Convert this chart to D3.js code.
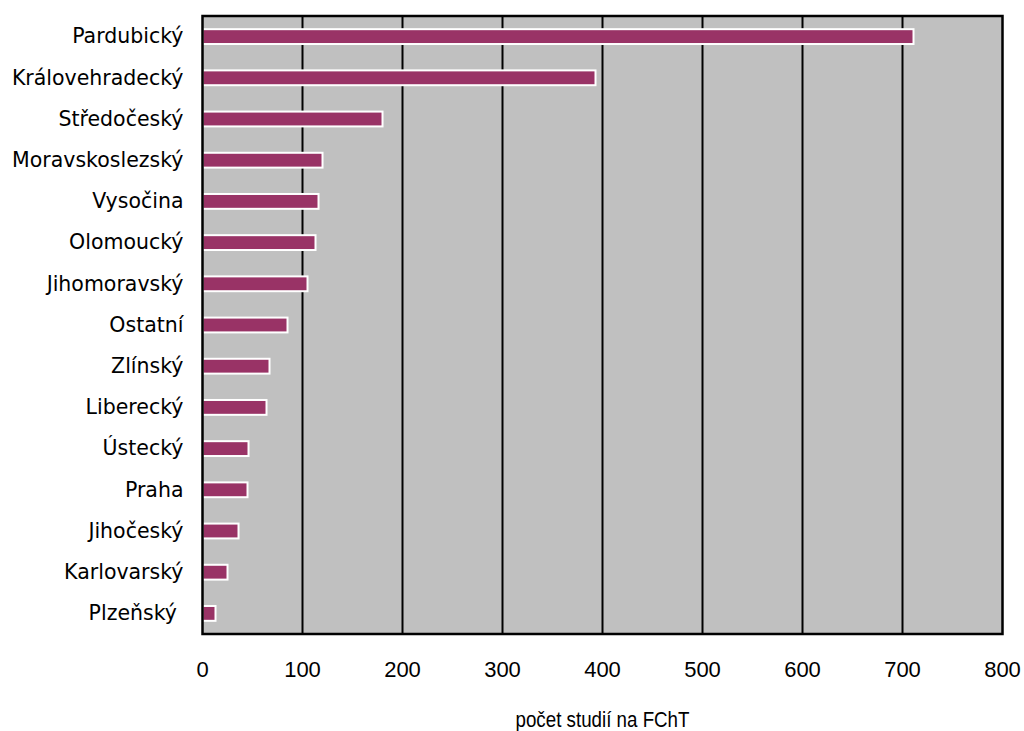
<!DOCTYPE html>
<html>
<head>
<meta charset="utf-8">
<script src="https://cdn.jsdelivr.net/npm/d3@7"></script>
<style>
  body { margin: 0; background: #fff; }
  svg { display: block; }
  .cat { font-family: "DejaVu Sans", Verdana, sans-serif; font-size: 20.5px; fill: #000; white-space: pre; }
  .tick-label { font-family: "Liberation Sans", Arial, sans-serif; font-size: 22px; fill: #000; }
  .axis-title { font-family: "Liberation Sans", Arial, sans-serif; font-size: 22px; fill: #000; }
</style>
</head>
<body>
<svg id="chart" width="1024" height="731"></svg>
<script>
// Regions (kraje) and number of studies at FChT
const regions = ["Pardubický", "Královehradecký", "Středočeský", "Moravskoslezský", "Vysočina",
  "Olomoucký", "Jihomoravský", "Ostatní", "Zlínský", "Liberecký", "Ústecký", "Praha",
  "Jihočeský", "Karlovarský", "Plzeňský "];
const studies = [711, 393, 180, 120, 116, 113, 105, 85, 67, 64, 46, 45, 36, 25, 13];
const xTicks = [0, 100, 200, 300, 400, 500, 600, 700, 800];
const xTitle = "počet studií na FChT";

const svg = d3.select("#chart");
const plot = { left: 202.5, right: 1002.5, top: 16, bottom: 634 };

const x = d3.scaleLinear().domain([0, 800]).range([plot.left, plot.right]);
const y = d3.scaleBand().domain(regions).range([plot.top, plot.bottom]).paddingInner(0.64).paddingOuter(0.32);

// plot background
svg.append("rect")
  .attr("x", plot.left).attr("y", plot.top)
  .attr("width", plot.right - plot.left).attr("height", plot.bottom - plot.top)
  .attr("fill", "#c0c0c0");

// vertical gridlines
svg.append("g")
  .selectAll("line")
  .data(xTicks.slice(1, -1))
  .join("line")
  .attr("x1", d => x(d)).attr("x2", d => x(d))
  .attr("y1", plot.top).attr("y2", plot.bottom)
  .attr("stroke", "#000").attr("stroke-width", 2);

// bars
svg.append("g")
  .selectAll("rect")
  .data(regions)
  .join("rect")
  .attr("x", x(0))
  .attr("y", d => y(d))
  .attr("width", (d, i) => x(studies[i]) - x(0))
  .attr("height", y.bandwidth())
  .attr("fill", "#993366")
  .attr("stroke", "#fff")
  .attr("stroke-width", 2);

// plot frame
svg.append("rect")
  .attr("x", plot.left).attr("y", plot.top)
  .attr("width", plot.right - plot.left).attr("height", plot.bottom - plot.top)
  .attr("fill", "none").attr("stroke", "#000").attr("stroke-width", 2.5);

// category labels
svg.append("g")
  .selectAll("text")
  .data(regions)
  .join("text")
  .attr("class", "cat")
  .attr("x", plot.left - 19)
  .attr("y", d => y(d) + y.bandwidth() / 2)
  .attr("dy", "0.33em")
  .attr("text-anchor", "end")
  .text(d => d);

// x tick labels
svg.append("g")
  .selectAll("text")
  .data(xTicks)
  .join("text")
  .attr("class", "tick-label")
  .attr("x", d => x(d))
  .attr("y", 677)
  .attr("text-anchor", "middle")
  .text(d => d);

// x axis title
svg.append("text")
  .attr("class", "axis-title")
  .attr("x", (plot.left + plot.right) / 2)
  .attr("y", 727)
  .attr("text-anchor", "middle")
  .attr("textLength", 174)
  .attr("lengthAdjust", "spacingAndGlyphs")
  .text(xTitle);
</script>
</body>
</html>
